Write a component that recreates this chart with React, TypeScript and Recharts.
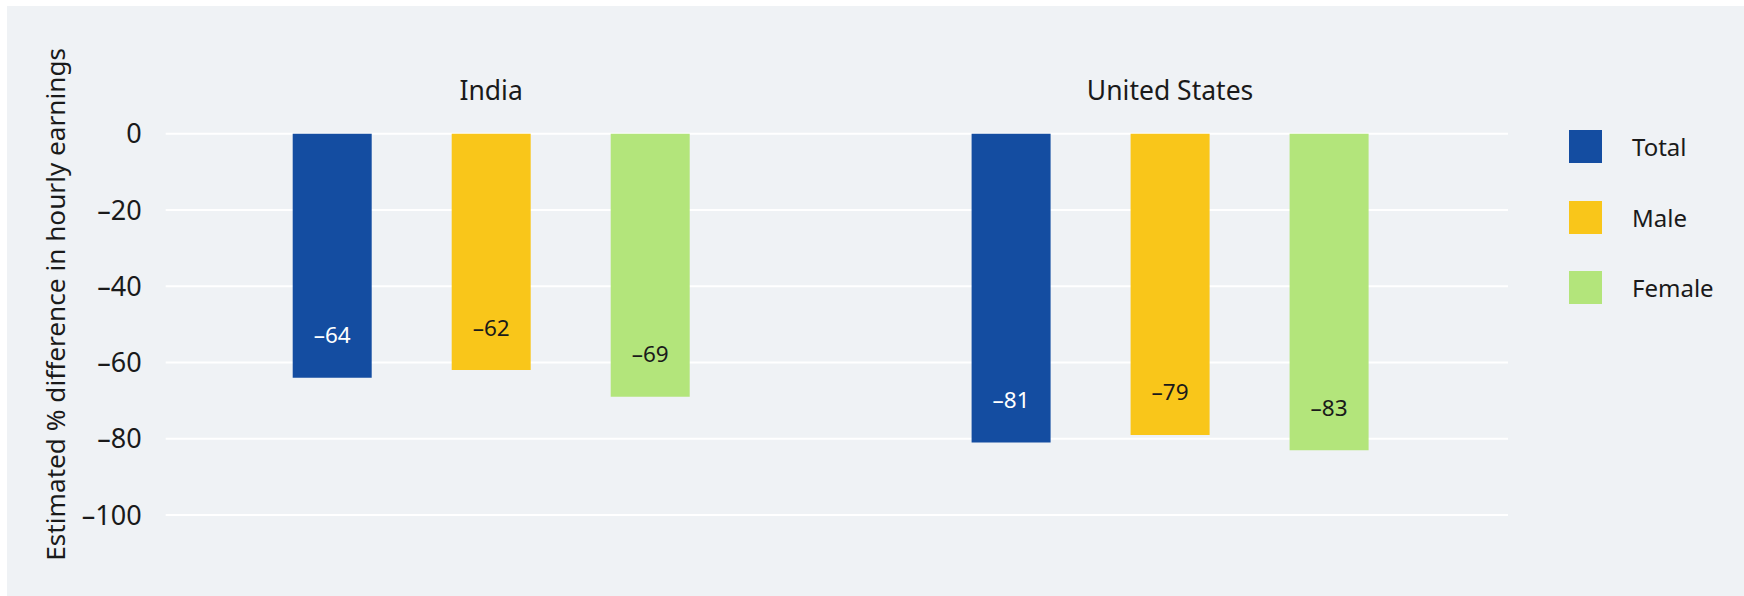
import React from "react";
import { BarChart, Bar, XAxis, YAxis, CartesianGrid, LabelList, Label } from "recharts";

const categories = ["India", "United States"];
const totalValues = [-64, -81];
const maleValues = [-62, -79];
const femaleValues = [-69, -83];
const yTicks = [0, -20, -40, -60, -80, -100];

const series = [
  { key: "total", name: "Total", color: "#144DA1", labelColor: "#FFFFFF", values: totalValues },
  { key: "male", name: "Male", color: "#F9C61A", labelColor: "#1A1A1A", values: maleValues },
  { key: "female", name: "Female", color: "#B3E57B", labelColor: "#1A1A1A", values: femaleValues },
];

const data = categories.map((c, i) => {
  const row: any = { category: c };
  series.forEach((s) => (row[s.key] = s.values[i]));
  return row;
});

const FONT = "'Noto Sans', sans-serif";

const makeLabel = (color: string) => (props: any) => {
  const { x, y, width, height, value } = props;
  const bottom = Math.max(y, y + height);
  return (
    <text
      x={x + width / 2}
      y={bottom - 43}
      textAnchor="middle"
      dominantBaseline="central"
      fill={color}
      fontSize={22.5}
      fontFamily={FONT}
    >
      {"\u2013" + Math.abs(value)}
    </text>
  );
};

const YLabel = (props: any) => {
  const { viewBox } = props;
  const cx = viewBox.x + 48;
  const cy = viewBox.y + viewBox.height / 2 - 20;
  return (
    <text
      x={cx}
      y={cy}
      transform={`rotate(-90 ${cx} ${cy})`}
      textAnchor="middle"
      dominantBaseline="central"
      fill="#1A1A1A"
      fontSize={26.2}
      fontFamily={FONT}
    >
      Estimated % difference in hourly earnings
    </text>
  );
};

export default function App() {
  return (
    <div
      style={{
        position: "fixed",
        left: 7,
        top: 6,
        width: 1737,
        height: 590,
        background: "#EFF2F5",
      }}
    >
      <BarChart
        width={1737}
        height={590}
        data={data}
        margin={{ top: 97.7, right: 234.5, bottom: 81, left: 0 }}
        barSize={79}
        barGap={80}
      >
        <CartesianGrid
          x={158.7}
          width={1342.3}
          vertical={false}
          stroke="#FFFFFF"
          strokeWidth={2}
        />
        <XAxis
          dataKey="category"
          orientation="top"
          height={30}
          axisLine={false}
          tickLine={false}
          tickSize={0}
          tickMargin={34}
          tick={{ fill: "#1A1A1A", fontSize: 26.5, fontFamily: FONT }}
        />
        <YAxis
          width={144.7}
          domain={[-100, 0]}
          ticks={yTicks}
          axisLine={false}
          tickLine={false}
          tickSize={0}
          tickMargin={10}
          tickFormatter={(v: number) => (v < 0 ? "\u2013" + Math.abs(v) : String(v))}
          tick={{ fill: "#1A1A1A", fontSize: 27, fontFamily: FONT }}
        >
          <Label content={<YLabel />} />
        </YAxis>
        {series.map((s) => (
          <Bar key={s.key} dataKey={s.key} name={s.name} fill={s.color} isAnimationActive={false}>
            <LabelList dataKey={s.key} content={makeLabel(s.labelColor)} />
          </Bar>
        ))}
      </BarChart>
      <div style={{ position: "absolute", left: 1562, top: 124, fontFamily: FONT }}>
        {series.map((s) => (
          <div key={s.key} style={{ display: "flex", alignItems: "center", height: 33, marginBottom: 37.7 }}>
            <div style={{ width: 33, height: 33, background: s.color }} />
            <span style={{ marginLeft: 30, fontSize: 24, color: "#1A1A1A" }}>{s.name}</span>
          </div>
        ))}
      </div>
    </div>
  );
}
